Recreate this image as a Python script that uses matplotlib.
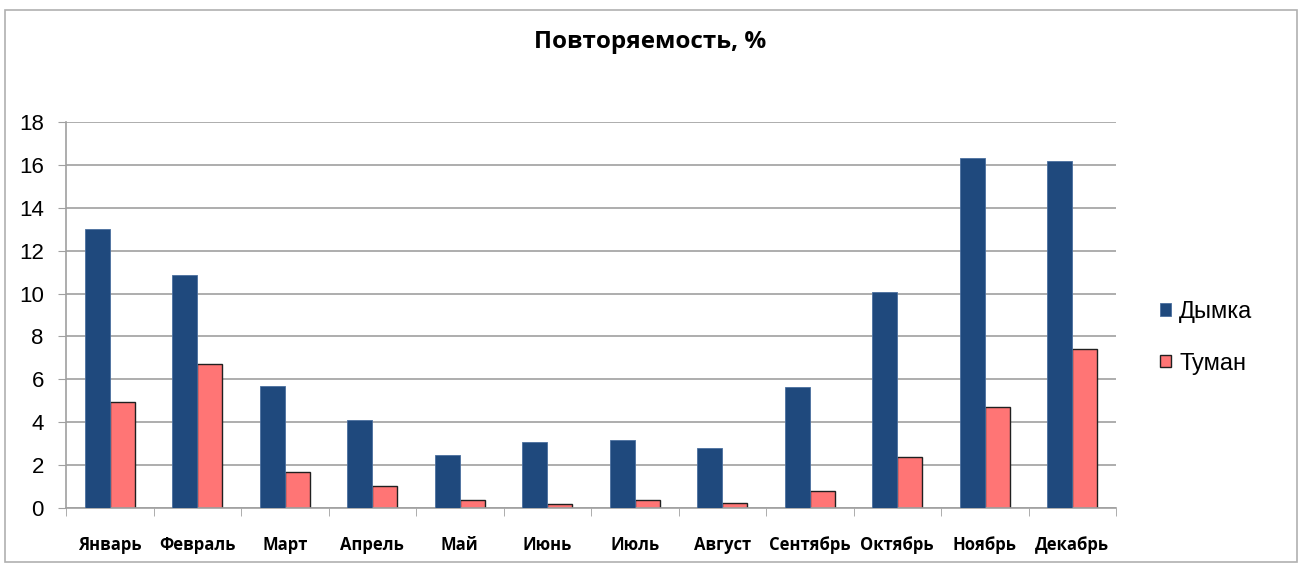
import numpy as np
import matplotlib
matplotlib.use("Agg")
from matplotlib import pyplot as plt
from matplotlib.patches import Rectangle

months = ["Январь", "Февраль", "Март", "Апрель", "Май", "Июнь",
          "Июль", "Август", "Сентябрь", "Октябрь", "Ноябрь", "Декабрь"]
dymka = [13.0, 10.87, 5.69, 4.1, 2.45, 3.08, 3.17, 2.8, 5.64, 10.07, 16.3, 16.2]
tuman = [4.94, 6.72, 1.68, 1.03, 0.37, 0.19, 0.37, 0.23, 0.79, 2.38, 4.71, 7.42]
yticks = [0, 2, 4, 6, 8, 10, 12, 14, 16, 18]

blue = "#1f497d"
red = "#ff7575"
grid = "#a0a0a0"

fig = plt.figure(figsize=(13.01, 5.72), dpi=100)
fig.patches.append(Rectangle((5/1301, 10/572), 1292/1301, 552/572, transform=fig.transFigure,
                             fill=False, edgecolor="#b0b0b0", linewidth=1.2))
ax = fig.add_axes([66/1301, 1 - 508/572, 1050/1301, 386/572])

x = np.arange(len(months))
w = 0.286
ax.bar(x - w/2, dymka, w, color=blue, edgecolor="#4a6f9f", linewidth=0.6, label="Дымка", zorder=3)
ax.bar(x + w/2, tuman, w, color=red, edgecolor="#202020", linewidth=1.0, label="Туман", zorder=2)

ax.set_xlim(-0.5, len(months) - 0.5)
ax.set_ylim(0, 18)
ax.set_yticks(yticks)
ax.set_yticklabels([str(v) for v in yticks], fontsize=16, family="Liberation Sans")
ax.set_xticks(x)
ax.set_xticklabels(months, fontsize=12, fontweight="bold", family="Open Sans")
for lab in ax.get_xticklabels():
    lab.set_verticalalignment("baseline")
ax.set_xticks(np.arange(len(months) + 1) - 0.5, minor=True)
ax.tick_params(axis="x", which="major", length=0, pad=30)
ax.tick_params(axis="x", which="minor", length=6, color=grid, direction="out")
ax.tick_params(axis="y", length=6, color=grid, direction="out", pad=10)
ax.yaxis.grid(True, color=grid, linewidth=1.2, zorder=0)
ax.set_axisbelow(True)
for s in ["top", "right"]:
    ax.spines[s].set_visible(False)
for s in ["left", "bottom"]:
    ax.spines[s].set_color(grid)
    ax.spines[s].set_linewidth(1.2)

fig.text(650/1301, 1 - 42/572, "Повторяемость, %", ha="center", va="center",
         fontsize=17.5, fontweight="bold", family="Open Sans")

ax.legend(loc="center left", bbox_to_anchor=(1.022, 0.441), frameon=False,
          prop={"family": "Liberation Sans", "size": 17},
          handlelength=0.45, handleheight=0.45, labelspacing=1.25, handletextpad=0.35)

fig.savefig("out.png", dpi=100)
